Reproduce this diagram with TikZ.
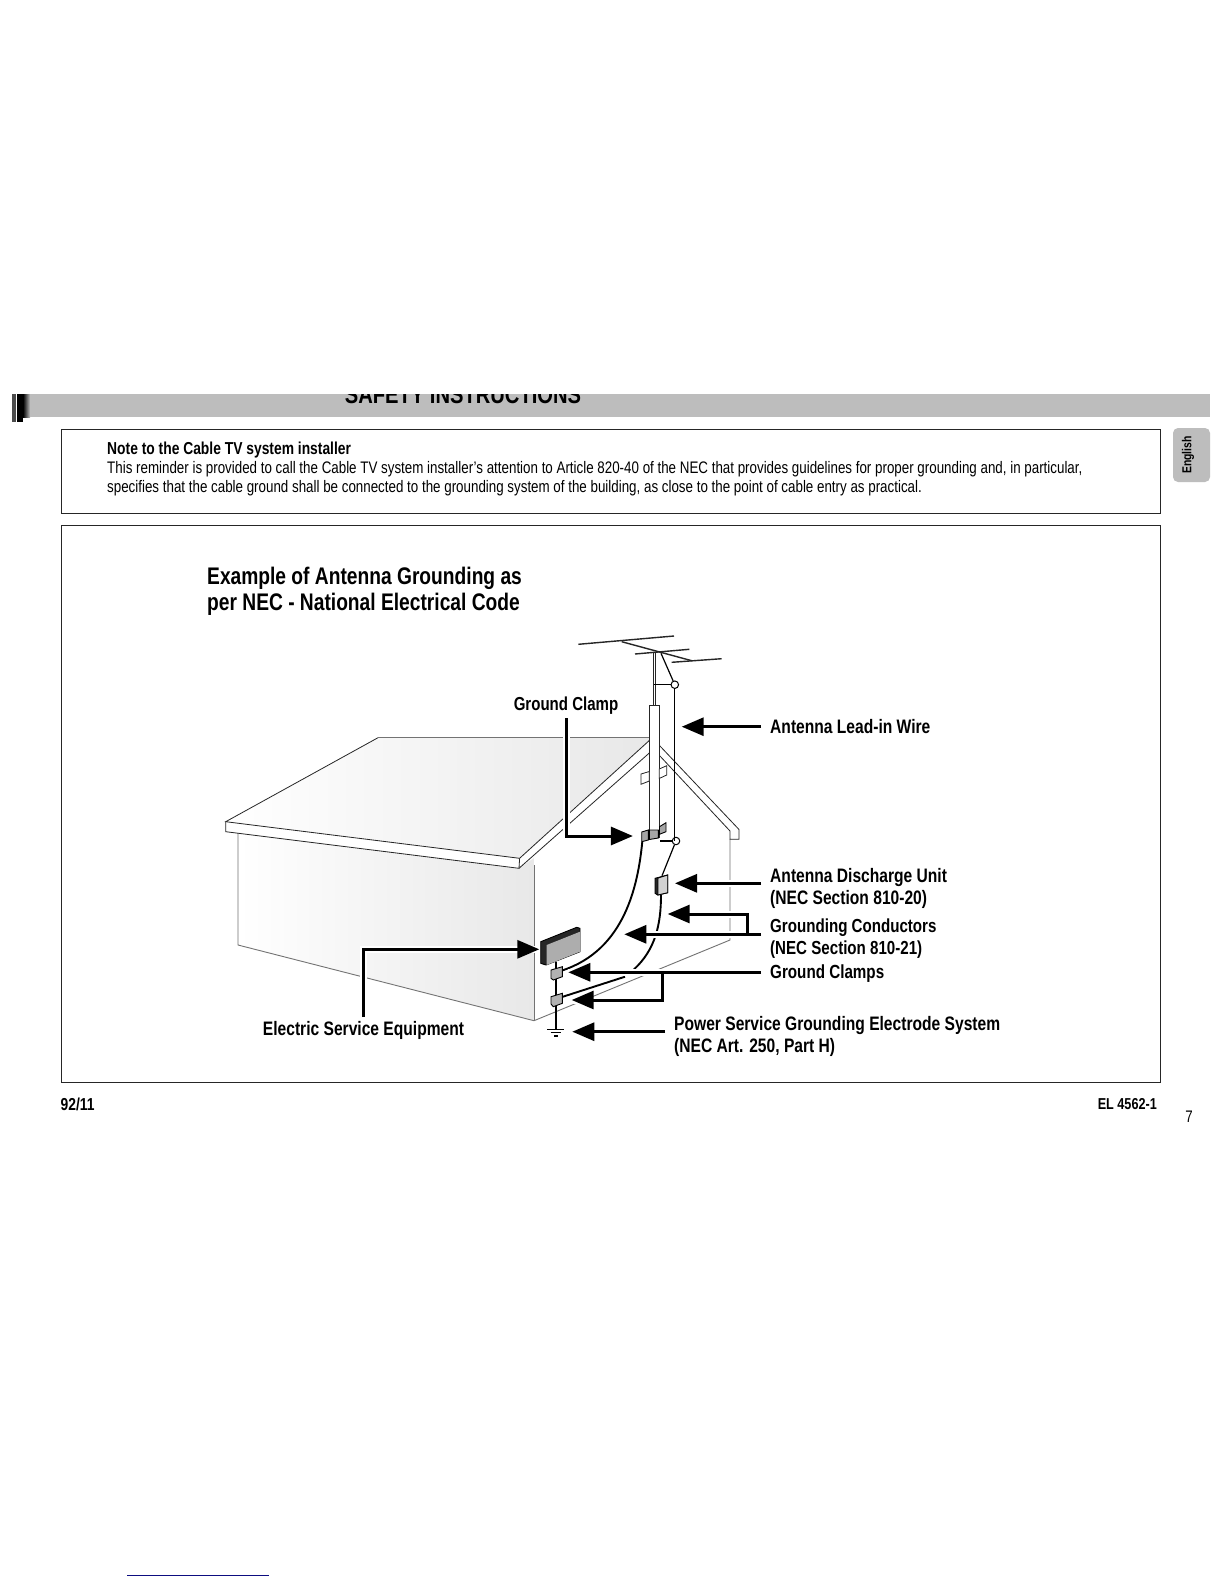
\documentclass[tikz,border=0pt]{standalone}
\usepackage{fontspec}
\setmainfont{Liberation Sans}[FakeStretch=0.80]
\usetikzlibrary{arrows.meta, calc}
\definecolor{bandgray}{gray}{0.74}
\definecolor{housegray}{gray}{0.45}
\definecolor{navyline}{rgb}{0.05,0.05,0.5}
\tikzset{
    x=1pt, y=-1pt,
    frame/.style={draw=black!85, line width=0.9pt},
    bodytext/.style={anchor=west, inner sep=0pt, font=\fontsize{16.7}{19}\selectfont},
    boldtext/.style={anchor=west, inner sep=0pt, font=\fontsize{17.3}{19}\selectfont\bfseries},
    headtext/.style={anchor=north west, align=left, inner sep=0pt, font=\fontsize{24}{26}\selectfont\bfseries},
    calltext/.style={anchor=west, align=left, inner ysep=0pt, inner xsep=9pt, font=\fontsize{19.5}{22}\selectfont\bfseries},
    clamptext/.style={inner xsep=0pt, inner ysep=4pt, font=\fontsize{19.5}{22}\selectfont\bfseries},
    houseline/.style={draw=black!85, line width=0.8pt},
    hiddenline/.style={draw=housegray, line width=0.9pt},
    wire/.style={draw, line width=1.2pt},
    fatwire/.style={draw, line width=1.9pt},
    terminal/.style={circle, draw, fill=white, line width=1pt, minimum size=7.5pt, inner sep=0pt},
    partbox/.style={draw, line width=0.9pt, fill=black!35},
    darkbox/.style={draw, line width=0.9pt, fill=black!85},
    callbare/.style={draw, line width=3pt, -{Triangle[length=22pt,width=18pt]}},
    callhalo/.style={draw=white, line width=7pt},
    callout/.style={callbare, preaction={draw=white, line width=7pt, arrows=-}}
}
\begin{document}
\begin{tikzpicture}
\useasboundingbox (0,0) rectangle (1224,1584);
\fill[white] (0,0) rectangle (1224,1584);

% Header band with the cut-off title
\fill[black!70] (12,394) rectangle (16,422);
\fill[black] (17,394) rectangle (23,422);
\fill[bandgray] (30,394) rectangle (1210,417);
\shade[left color=black, right color=bandgray] (23,394) rectangle (30,417);
\begin{scope}
\clip (20,394) rectangle (1210,417);
\node[anchor=base, inner sep=0pt, font=\fontsize{25.2}{25}\selectfont\bfseries] (bandTitle) at (463,403.5) {SAFETY INSTRUCTIONS};
\end{scope}

% Language tab
\fill[bandgray, rounded corners=5pt] (1173,428) rectangle (1210,482);
\node[rotate=90, inner sep=0pt, font=\fontsize{13}{15}\selectfont\bfseries] (tabEnglish) at (1188,455) {English};

% Note box
\draw[frame] (61,429) rectangle (1160,513);
\node[boldtext] (noteHead) at (107,450) {Note to the Cable TV system installer};
\node[bodytext] (noteOne) at (107,469.5) {This reminder is provided to call the Cable TV system installer's attention to Article 820-40 of the NEC that provides guidelines for proper grounding and, in particular,};
\node[bodytext] (noteTwo) at (107,488.5) {specifies that the cable ground shall be connected to the grounding system of the building, as close to the point of cable entry as practical.};

% Diagram box
\draw[frame] (61,525) rectangle (1160,1082);
\node[headtext] (diagramHead) at (207,567) {Example of Antenna Grounding as\\per NEC - National Electrical Code};

% Wall and roof fills
\shade[left color=white, right color=black!9] (238,833) -- (519,868) -- (534,858) -- (534,1020.7) -- (238,945) -- cycle;
\shade[left color=white, right color=black!9] (378,737.7) -- (649,737.7) -- (649,741) -- (519.6,858.3) -- (225.7,821.7) -- cycle;

% House outline
\draw[hiddenline] (238,833) -- (238,945) -- (534,1020.7) -- (730,940) -- (730,839);
\draw[hiddenline] (534,865) -- (534,1020.7);
\draw[hiddenline] (378,737.7) -- (649,737.7);
\draw[houseline] (649.3,740.5) -- (519.6,858.3) -- (225.7,821.7) -- (378,737.7);
\draw[houseline] (225.7,821.7) -- (225.7,831.7) -- (519,868.3) -- (519.6,858.3);
\draw[houseline] (519,868.3) -- (649.3,753);
\draw[houseline] (659,745) -- (739,829.5) -- (739,839.3) -- (730,839.3) -- (730,831) -- (659,755);

% Antenna
\draw[houseline, line width=1.4pt] (578.3,644.3) -- (674,636);
\draw[houseline, line width=1.4pt] (621.7,641.7) -- (691.7,660.7);
\draw[houseline, line width=1.4pt] (635,654) -- (689.3,649.3);
\draw[houseline, line width=1.4pt] (671.7,662.3) -- (721.7,658.7);
\draw[houseline] (653.2,652) -- (653.2,705.5);
\draw[houseline] (655.6,652) -- (655.6,705.5);
\draw[houseline, fill=white] (649.3,838) -- (649.3,705.5) -- (659.2,705.5) -- (659.2,838);

% Strap on the mast
\draw[houseline, fill=white] (641,774) -- (649.3,771.5) -- (649.3,781) -- (641,784.3) -- cycle;
\draw[houseline, fill=white] (659.2,769) -- (666.7,765.7) -- (666.7,775) -- (659.2,778.5) -- cycle;

% Antenna lead-in wire
\node[terminal] (termTop) at (674.8,684.7) {};
\node[terminal] (termLow) at (676,841) {};
\coordinate (strutTop) at (661,653.3);
\coordinate (armEnd) at (653.7,684.7);
\coordinate (armLow) at (660,841);
\draw[wire] (strutTop) -- (termTop);
\draw[wire] (armEnd) -- (termTop);
\draw[wire] (termLow) -- (armLow);
\draw[wire] (termTop) -- (termLow -| termTop);

% Ground clamp at the mast
\draw[partbox] (641.7,832) -- (648.3,830) -- (648.3,840) -- (641.7,841.7) -- cycle;
\draw[partbox] (649.3,830) -- (658.3,830) -- (658.3,838) -- (649.3,839.5) -- cycle;
\draw[partbox] (659.5,826.7) -- (666,822.7) -- (666,831.7) -- (659.5,834.3) -- cycle;

% Antenna discharge unit
\coordinate (dischTop) at (662,875.7);
\coordinate (dischLow) at (661,895);
\draw[wire] (termLow) -- (dischTop);
\draw[darkbox] (655,878.3) -- (667.7,875) -- (667.7,892.7) -- (657.7,895) -- (655,893.3) -- cycle;
\draw[partbox, fill=black!18] (658,878) -- (667.7,875) -- (667.7,892.7) -- (658,895) -- cycle;

% Electric service box
\draw[darkbox] (540.7,941.7) -- (576.7,927.3) -- (580,928.3) -- (580,951.7) -- (546,965) -- (540.7,963.3) -- cycle;
\fill[black!32] (546.7,945) -- (580,931.7) -- (580,951.7) -- (546.7,965) -- cycle;

% Ground conductors and clamps
\coordinate (clampUp) at (562,970.5);
\coordinate (clampLow) at (562,997);
\coordinate (wireEnd) at (634,969.3);
\coordinate (fatEnd) at (625,976.7);
\coordinate (rodTop) at (556,961.7);
\coordinate (rodLow) at (556,1029.3);
\draw[fatwire] (642.3,841.7) .. controls (638,885) and (625,950) .. (clampUp);
\draw[fatwire] (dischLow) .. controls (661,925) and (655,950) .. (wireEnd);
\draw[fatwire] (clampLow) -- (fatEnd);
\draw[wire] (rodTop) -- (rodLow);
\draw[darkbox, fill=black!30] (551,970) -- (562.3,966.7) -- (562.3,976.7) -- (553.3,980) -- (551,978.3) -- cycle;
\draw[darkbox, fill=black!30] (551,996.7) -- (562.3,993.3) -- (562.3,1003.3) -- (553.3,1006.7) -- (551,1004) -- cycle;

% Ground symbol
\draw[wire] (547.3,1029.3) -- (564.3,1029.3);
\draw[wire] (550.7,1032.7) -- (560.7,1032.7);
\draw[wire] (554,1036) -- (558,1036);

% Callout labels
\node[clamptext, font=\fontsize{18.8}{22}\selectfont\bfseries] (lblClamp) at (566,705.5) {Ground Clamp};
\node[calltext] (lblLead) at (761,726.5) {Antenna Lead-in Wire};
\node[calltext] (lblDisch) at (761,888) {Antenna Discharge Unit\\(NEC Section 810-20)};
\node[calltext, font=\fontsize{18.9}{22}\selectfont\bfseries] (lblCond) at (761,939) {Grounding Conductors\\(NEC Section 810-21)};
\node[calltext, font=\fontsize{19}{22}\selectfont\bfseries] (lblClamps) at (761,974) {Ground Clamps};
\node[calltext] (lblPower) at (665,1036) {Power Service Grounding Electrode System\\(NEC Art. 250, Part H)};
\node[clamptext] (lblElec) at (363.5,1030.5) {Electric Service Equipment};

% Arrow tips
\coordinate (tipLead) at (681.7,726.7);
\coordinate (tipClamp) at (632.9,836);
\coordinate (tipDisch) at (675,883.3);
\coordinate (tipCondA) at (667.7,914);
\coordinate (tipCondB) at (624.3,934.3);
\coordinate (tipClampA) at (568.3,972.3);
\coordinate (tipClampB) at (571.7,1000);
\coordinate (tipPower) at (572.3,1031.7);
\coordinate (tipElec) at (539.3,949.3);
\coordinate (branchCond) at (747.3,934.3);
\coordinate (branchClamp) at (662.3,972.3);

% Callouts
\draw[callhalo] (branchCond) |- (tipCondA);
\draw[callhalo] (branchClamp) |- (tipClampB);
\draw[callout] (lblClamp.south) |- (tipClamp);
\draw[callout] (lblLead.west |- tipLead) -- (tipLead);
\draw[callout] (lblDisch.west |- tipDisch) -- (tipDisch);
\draw[callout] (lblCond.west |- tipCondB) -- (tipCondB);
\draw[callout] (lblClamps.west |- tipClampA) -- (tipClampA);
\draw[callout] (lblPower.west |- tipPower) -- (tipPower);
\draw[callout] (lblElec.north) |- (tipElec);
\draw[callbare] (branchCond) |- (tipCondA);
\draw[callbare] (branchClamp) |- (tipClampB);

% Page footer
\node[boldtext] (footDate) at (60.5,1104) {92/11};
\node[boldtext, anchor=east, font=\fontsize{15.8}{19}\selectfont\bfseries] (footCode) at (1157,1104) {EL 4562-1};
\node[bodytext, anchor=center] (footPage) at (1189,1117) {7};

% Stray line at the page foot
\draw[navyline, line width=1pt] (127,1575.3) -- (269,1575.3);
\end{tikzpicture}
\end{document}
